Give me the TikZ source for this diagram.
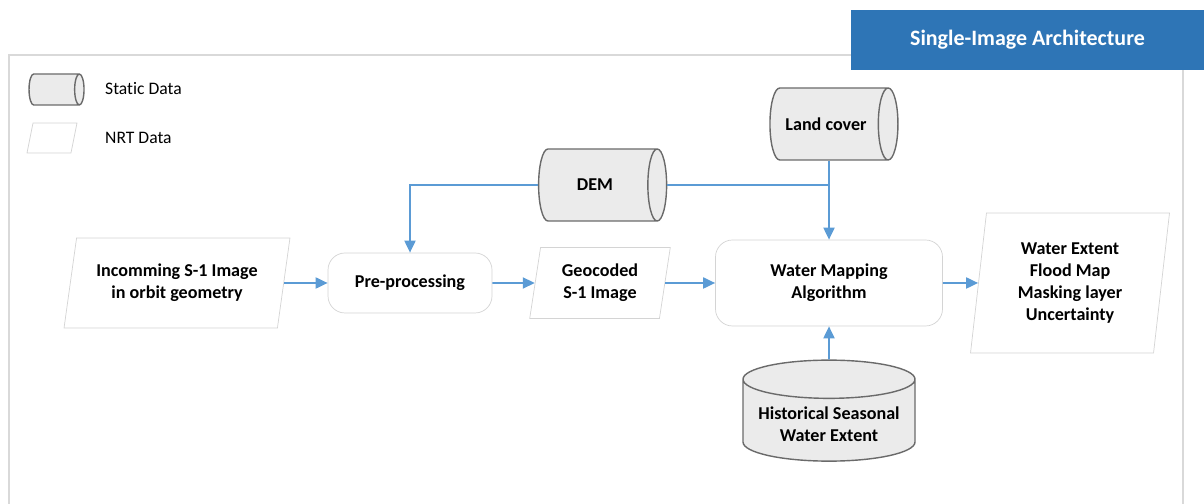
\documentclass[tikz,border=0pt]{standalone}
\usepackage{fontspec}
\setmainfont{Carlito}[Ligatures=NoCommon]
\usetikzlibrary{shapes.geometric,arrows.meta,positioning}
\definecolor{flowblue}{HTML}{5B9BD5}
\definecolor{titleblue}{HTML}{2E75B6}
\definecolor{boxline}{HTML}{D4D4D4}
\definecolor{framegray}{HTML}{D9D9D9}
\definecolor{cylfill}{HTML}{EBEBEB}
\definecolor{cylline}{HTML}{6A6A6A}
\tikzset{
	procbox/.style={draw=boxline, fill=white, rounded corners=0.34cm, align=center,
		font=\fontsize{10.3}{12.5}\selectfont\bfseries},
	nrtbox/.style={trapezium, trapezium stretches=true, draw=boxline, fill=white,
		align=center, inner sep=1pt, font=\fontsize{10.3}{12.5}\selectfont\bfseries},
	staticdb/.style={cylinder, draw=cylline, fill=cylfill, thick, align=center,
		font=\fontsize{10.3}{12.5}\selectfont\bfseries},
	flowline/.style={draw=flowblue, line width=1.1pt},
	flow/.style={flowline, -{Triangle[length=0.24cm, width=0.22cm]}}
}
\begin{document}
\begin{tikzpicture}
	\useasboundingbox (0,0) rectangle (24.08,10.08);
	% outer frame and title
	\draw[framegray, line width=0.8pt] (0.18,0) -- (0.18,8.98) -- (23.66,8.98) -- (23.66,0);
	\node[fill=titleblue, minimum width=7.06cm, minimum height=1.2cm, text=white,
		font=\fontsize{12.5}{15}\selectfont\bfseries] (title) at (20.55,9.28) {Single-Image Architecture};

	% legend
	\node[staticdb, aspect=0.8, minimum height=1.1cm, minimum width=0.62cm] (legstatic) at (1.04,8.29) {};
	\node[nrtbox, trapezium left angle=81, trapezium right angle=99,
		minimum width=1.0cm, minimum height=0.6cm] (legnrt) at (1.04,7.32) {};
	\node[right, font=\fontsize{10}{12}\selectfont] (legstatictxt) at (1.98,8.30) {Static Data};
	\node[right, font=\fontsize{10}{12}\selectfont] (legnrttxt) at (1.98,7.32) {NRT Data};

	% main row
	\node[nrtbox, trapezium left angle=76, trapezium right angle=104,
		minimum width=4.52cm, minimum height=1.8cm] (incoming) at (3.54,4.42)
		{Incomming S-1 Image\\in orbit geometry};
	\node[procbox, minimum width=3.28cm, minimum height=1.2cm] (preproc) at (8.20,4.42) {Pre-processing};
	\node[nrtbox, trapezium left angle=80, trapezium right angle=100,
		minimum width=2.82cm, minimum height=1.42cm] (geocoded) at (12.00,4.42)
		{Geocoded\\S-1 Image};
	\node[procbox, minimum width=4.54cm, minimum height=1.72cm] (water) at (16.58,4.42)
		{Water Mapping\\Algorithm};
	\node[nrtbox, trapezium left angle=83, trapezium right angle=97,
		minimum width=4.0cm, minimum height=2.8cm] (output) at (21.40,4.42)
		{Water Extent\\Flood Map\\Masking layer\\Uncertainty};

	% static inputs
	\node[staticdb, aspect=0.8, minimum height=2.56cm, minimum width=1.44cm] (dem) at (11.90,6.38) {DEM};
	\node[staticdb, aspect=0.8, minimum height=2.56cm, minimum width=1.44cm] (landcover) at (16.52,7.60) {Land cover};
	\node[staticdb, shape border rotate=90, aspect=0.25, minimum width=3.44cm, minimum height=2.02cm]
		(hist) at (16.58,1.60) {Historical Seasonal\\Water Extent};

	% connectors
	\draw[flow] (incoming) -- (preproc);
	\draw[flow] (preproc) -- (geocoded);
	\draw[flow] (geocoded) -- (water);
	\draw[flow] (water) -- (output);
	\draw[flow] (dem.west) -| (preproc.north);
	\coordinate (jn) at (water.north |- dem.east);
	\coordinate (lcfoot) at (water.north |- landcover.south);
	\draw[flowline] (dem.east) -- (jn);
	\draw[flow] (lcfoot) -- (water.north);
	\draw[flow] (hist.north) -- (water.south);
\end{tikzpicture}
\end{document}
